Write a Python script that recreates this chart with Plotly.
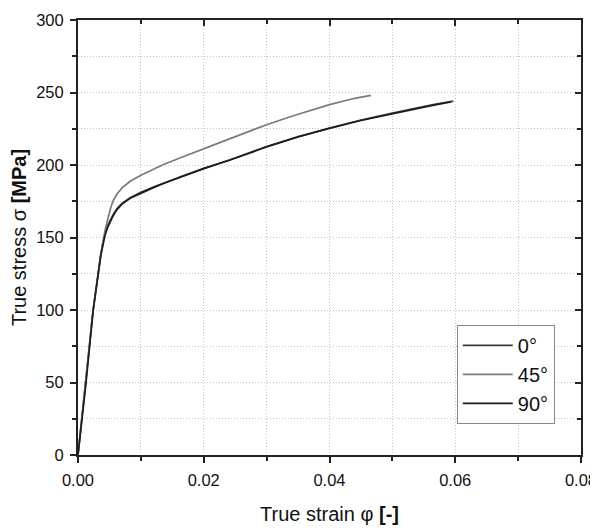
import plotly.graph_objects as go

# ---- data ----
strain_0 = [0, 0.0006, 0.00127, 0.0024, 0.0032, 0.0036, 0.0040, 0.0043, 0.0047, 0.0051, 0.0056, 0.0062,
            0.0070, 0.0083, 0.0100, 0.0120, 0.0136, 0.0165, 0.0200, 0.0242, 0.0300, 0.0350, 0.0400,
            0.0450, 0.0500, 0.0540, 0.0565, 0.0597]
stress_0 = [0, 24, 50, 100, 125, 138, 147, 153, 158, 162, 166, 170,
            173.5, 177.5, 181.2, 184.8, 187.6, 192.2, 197.7, 203.6, 212.8, 219.6, 225.5,
            231, 235.8, 239.4, 241.6, 244]

strain_45 = [0, 0.0006, 0.00127, 0.0024, 0.0032, 0.0036, 0.0040, 0.0044, 0.0048, 0.0052, 0.0056, 0.0062,
             0.0070, 0.0083, 0.0100, 0.0120, 0.0136, 0.0162, 0.0200, 0.0242, 0.0300, 0.0340, 0.0400,
             0.0440, 0.0466]
stress_45 = [0, 24, 50, 100, 125, 138, 148, 157, 164.5, 170.5, 175.5, 180,
             184.2, 188.8, 193, 197.4, 200.4, 204.8, 211.4, 218.2, 227.8, 233.6, 241.6,
             246, 248]

strain_90 = [0, 0.0006, 0.00127, 0.0024, 0.0032, 0.0036, 0.0040, 0.0043, 0.0047, 0.0051, 0.0056, 0.0062,
             0.0070, 0.0083, 0.0100, 0.0120, 0.0136, 0.0165, 0.0200, 0.0242, 0.0300, 0.0350, 0.0400,
             0.0450, 0.0500, 0.0540, 0.0560, 0.0593]
stress_90 = [0, 23.5, 49.5, 99, 124, 137, 145.5, 151.5, 156.8, 161, 165, 169.2,
             173, 177, 180.6, 184.4, 187.2, 191.9, 197.5, 203.4, 212.5, 219.3, 225.3,
             230.7, 235.5, 239, 240.8, 243.5]

series_names = ["0°", "45°", "90°"]
series_colors = ["#3c3c3c", "#7a7a7a", "#1e1e1e"]

x_title = "True strain φ <b>[-]</b>"
y_title = "True stress σ <b>[MPa]</b>"
x_tickvals = [0, 0.02, 0.04, 0.06, 0.08]
x_ticktext = ["0.00", "0.02", "0.04", "0.06", "0.08"]
y_tickvals = [0, 50, 100, 150, 200, 250, 300]

FONT = "Liberation Sans, Arial, sans-serif"
AXC = "#222222"
GRIDC = "#c4c4c4"
GRIDDASH = "1px,2px"

fig = go.Figure()
for xs, ys, name, col in [(strain_0, stress_0, series_names[0], series_colors[0]),
                          (strain_45, stress_45, series_names[1], series_colors[1]),
                          (strain_90, stress_90, series_names[2], series_colors[2])]:
    fig.add_trace(go.Scatter(x=xs, y=ys, mode="lines", name=name,
                             line=dict(color=col, width=1.7)))

# invisible trace to host the mirrored (top/right) axes
fig.add_trace(go.Scatter(x=[0], y=[0], xaxis="x2", yaxis="y2", mode="markers",
                         marker=dict(opacity=0), showlegend=False, hoverinfo="skip"))

grid = dict(showgrid=True, gridcolor=GRIDC, gridwidth=1, griddash=GRIDDASH)

fig.update_layout(
    width=590, height=520,
    margin=dict(l=70, r=17, t=12, b=73, autoexpand=False),
    paper_bgcolor="white", plot_bgcolor="white",
    font=dict(family=FONT, color="#111111"),
    xaxis=dict(range=[0, 0.08], tickvals=x_tickvals, ticktext=x_ticktext,
               ticks="outside", ticklen=6, tickwidth=2, tickcolor=AXC, ticklabelstandoff=3,
               showline=True, linecolor=AXC, linewidth=2, zeroline=False, automargin=False,
               tickfont=dict(size=16.5, family=FONT),
               title=dict(text=x_title, font=dict(size=20, family=FONT), standoff=19),
               minor=dict(dtick=0.01, ticks="outside", ticklen=4, tickwidth=1.5, tickcolor=AXC,
                          showgrid=True, gridcolor=GRIDC, gridwidth=1, griddash=GRIDDASH),
               **grid),
    yaxis=dict(range=[0, 300], tickvals=y_tickvals,
               ticks="outside", ticklen=6, tickwidth=2, tickcolor=AXC, ticklabelstandoff=3,
               showline=True, linecolor=AXC, linewidth=2, zeroline=False, automargin=False,
               tickfont=dict(size=16.5, family=FONT),
               title=dict(text=y_title, font=dict(size=20, family=FONT), standoff=10),
               minor=dict(dtick=25, ticks="outside", ticklen=4, tickwidth=1.5, tickcolor=AXC,
                          showgrid=True, gridcolor=GRIDC, gridwidth=1, griddash=GRIDDASH),
               **grid),
    xaxis2=dict(range=[0, 0.08], overlaying="x", side="top", anchor="y2", automargin=False,
                tickvals=x_tickvals, showticklabels=False,
                ticks="inside", ticklen=6, tickwidth=2, tickcolor=AXC,
                showline=True, linecolor=AXC, linewidth=2, showgrid=False, zeroline=False,
                minor=dict(dtick=0.01, ticks="inside", ticklen=4, tickwidth=1.5, tickcolor=AXC)),
    yaxis2=dict(range=[0, 300], overlaying="y", side="right", anchor="x2", automargin=False,
                tickvals=y_tickvals, showticklabels=False,
                ticks="inside", ticklen=6, tickwidth=2, tickcolor=AXC,
                showline=True, linecolor=AXC, linewidth=2, showgrid=False, zeroline=False,
                minor=dict(dtick=25, ticks="inside", ticklen=4, tickwidth=1.5, tickcolor=AXC)),
    legend=dict(x=0.753, y=0.299, xanchor="left", yanchor="top",
                bgcolor="white", bordercolor="#8a8a8a", borderwidth=1,
                font=dict(size=20, family=FONT, color="#111111"),
                tracegroupgap=0, itemwidth=50),
    showlegend=True,
)

fig.write_html("out.html")
